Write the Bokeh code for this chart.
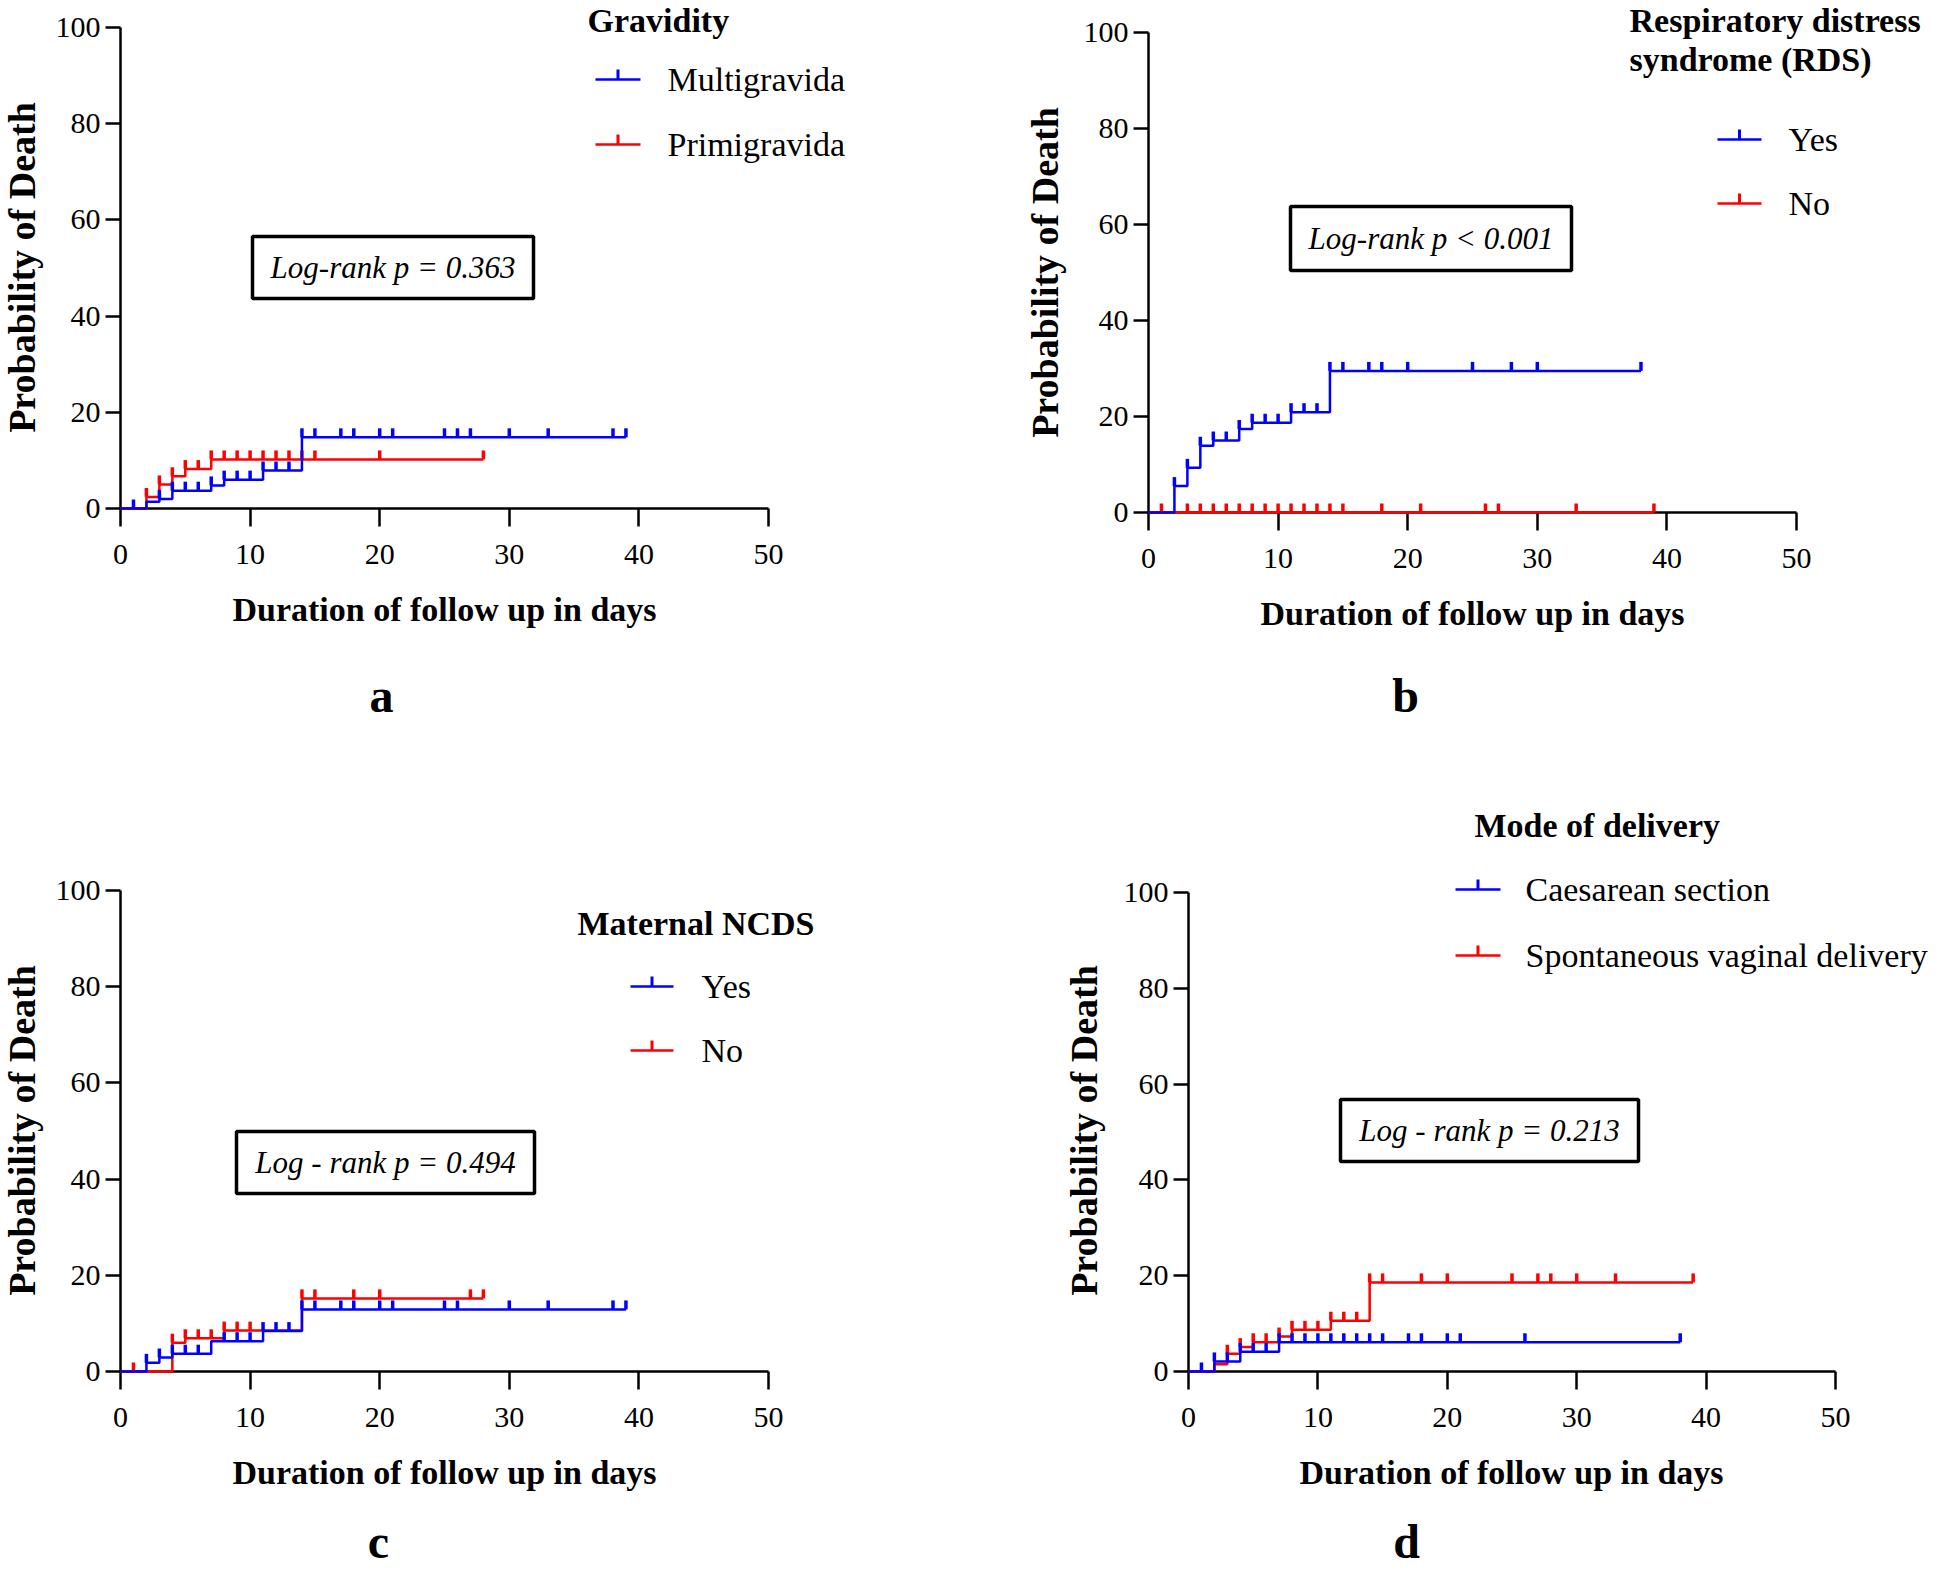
import math
from bokeh.plotting import figure
from bokeh.layouts import column, row
from bokeh.models import Range1d, FixedTicker, Label, Arrow, BoxAnnotation
from bokeh.embed import file_html
from bokeh.resources import INLINE

# ---------------- data ----------------
x_ticks = [0, 10, 20, 30, 40, 50]
y_ticks = [0, 20, 40, 60, 80, 100]

# a: Gravidity
multi_time = [0, 2, 3, 4, 7, 8, 11, 14, 39]
multi_prob = [0, 1.4, 2.0, 3.7, 4.8, 6.0, 7.9, 14.8, 14.8]
multi_cens = [1, 3, 4, 5, 6, 7, 8, 9, 10, 11, 12, 13, 14, 15, 17, 18, 20, 21, 25, 26, 27, 30, 33, 38, 39]
primi_time = [0, 2, 3, 4, 5, 7, 28]
primi_prob = [0, 2.4, 5.0, 6.7, 8.2, 10.2, 10.2]
primi_cens = [2, 3, 4, 5, 6, 7, 8, 9, 10, 11, 12, 13, 14, 15, 20, 28]

# b: RDS
rds_yes_time = [0, 2, 3, 4, 5, 7, 8, 11, 14, 38]
rds_yes_prob = [0, 5.5, 9.3, 13.9, 15.0, 17.4, 18.7, 20.9, 29.5, 29.5]
rds_yes_cens = [2, 3, 4, 5, 6, 7, 8, 9, 10, 11, 12, 13, 14, 15, 17, 18, 20, 25, 28, 30, 38]
rds_no_time = [0, 39]
rds_no_prob = [0, 0]
rds_no_cens = [1, 3, 4, 5, 6, 7, 8, 9, 10, 11, 12, 13, 14, 15, 18, 21, 26, 27, 33, 39]

# c: Maternal NCDS
ncds_yes_time = [0, 2, 3, 4, 7, 11, 14, 39]
ncds_yes_prob = [0, 1.8, 2.9, 3.7, 6.3, 8.4, 12.9, 12.9]
ncds_yes_cens = [2, 3, 4, 5, 6, 8, 9, 10, 11, 12, 13, 14, 15, 17, 18, 20, 21, 25, 26, 30, 33, 38, 39]
ncds_no_time = [0, 4, 5, 8, 14, 28]
ncds_no_prob = [0, 6.0, 6.9, 8.5, 15.2, 15.2]
ncds_no_cens = [1, 4, 5, 6, 7, 8, 9, 10, 14, 15, 18, 20, 27, 28]

# d: Mode of delivery
cs_time = [0, 2, 4, 7, 38]
cs_prob = [0, 2.1, 4.1, 6.1, 6.1]
cs_cens = [1, 2, 3, 4, 5, 6, 7, 8, 9, 10, 11, 12, 13, 14, 15, 17, 18, 20, 21, 26, 38]
svd_time = [0, 2, 3, 4, 5, 7, 8, 11, 14, 39]
svd_prob = [0, 1.5, 3.7, 5.1, 6.1, 7.3, 8.7, 10.6, 18.6, 18.6]
svd_cens = [3, 4, 5, 6, 7, 8, 9, 10, 11, 12, 13, 14, 15, 18, 20, 25, 27, 28, 30, 33, 39]

# ---------------- styles ----------------
FONT = "Liberation Serif"
BLUE = "#0000FF"
RED = "#FF0000"
X_MAX = x_ticks[-1]
Y_MAX = y_ticks[-1]
BASE_SHIFT = 0.37  # em; correction so the given y is the visual baseline


def level_at(times, probs, t):
    v = probs[0]
    for ti, pi in zip(times, probs):
        if ti <= t:
            v = pi
    return v


def make_panel(cfg):
    ox, oy = cfg["origin"]
    W, H = cfg["W"], cfg["H"]
    fr = cfg["frame"]
    L, R = fr["l"] - ox, fr["r"] - ox
    T, B = fr["t"] - oy, fr["b"] - oy
    kx = X_MAX / (R - L)
    ky = Y_MAX / (B - T)
    xr = Range1d(-L * kx, X_MAX + (W - R) * kx)
    yr = Range1d(-(H - B) * ky, Y_MAX + T * ky)

    def dx(px):
        return (px - fr["l"]) * kx

    def dy(py):
        return (fr["b"] - py) * ky

    def text(txt, px, py, size, style="normal", align="left"):
        p.add_layout(Label(x=dx(px), y=dy(py - BASE_SHIFT * size), text=txt,
                           text_align=align, text_baseline="alphabetic",
                           text_font=FONT, text_font_size=f"{size}px",
                           text_font_style=style, text_color="black"))

    p = figure(width=W, height=H, x_range=xr, y_range=yr,
               output_backend="svg", toolbar_location=None,
               min_border_left=0, min_border_right=0, min_border_top=0, min_border_bottom=0)
    p.outline_line_color = None
    p.xgrid.visible = False
    p.ygrid.visible = False
    p.background_fill_color = "white"
    p.border_fill_color = "white"

    for ax in (p.xaxis[0], p.yaxis[0]):
        ax.fixed_location = 0
        ax.axis_line_width = 2.5
        ax.axis_line_color = "black"
        ax.major_tick_line_width = 2.5
        ax.major_tick_line_color = "black"
        ax.major_tick_in = 0
        ax.minor_tick_line_color = None
        ax.major_label_text_font = FONT
        ax.major_label_text_font_size = "30px"
        ax.major_label_text_color = "black"
    p.xaxis.bounds = (0, X_MAX)
    p.yaxis.bounds = (0, Y_MAX)
    p.xaxis.ticker = FixedTicker(ticks=x_ticks)
    p.yaxis.ticker = FixedTicker(ticks=y_ticks)
    p.xaxis.major_tick_out = 18
    p.xaxis.major_label_standoff = 18
    p.yaxis.major_tick_out = 15
    p.yaxis.major_label_standoff = 5

    tick_len = 9 * ky
    for (times, probs, cens, color) in cfg["series"]:
        r = p.step(x=times, y=probs, mode="after", line_color=color, line_width=2.5)
        r.level = "overlay"
        lv = [level_at(times, probs, c) for c in cens]
        s = p.segment(x0=cens, y0=lv, x1=cens, y1=[v + tick_len for v in lv],
                      line_color=color, line_width=3.5)
        s.level = "overlay"

    # y axis title (rotated)
    p.add_layout(Label(x=dx(cfg["ytitle"][0]), y=dy(cfg["ytitle"][1]), text="Probability of Death",
                       angle=math.pi / 2, text_align="center", text_baseline="middle",
                       text_font=FONT, text_font_size="38px", text_font_style="bold",
                       text_color="black"))
    # x axis title
    text("Duration of follow up in days", cfg["xtitle"][0], cfg["xtitle"][1], 34, "bold", "center")
    # panel letter
    text(cfg["letter"][0], cfg["letter"][1], cfg["letter"][2], 48, "bold", "center")
    # legend title
    for (txt, lx, ly) in cfg["ltitle"]:
        text(txt, lx, ly, 34, "bold", "left")
    # legend entries
    lx0, lx1, tx = cfg["lentry_x"]
    for (txt, color, ly) in cfg["lentries"]:
        p.add_layout(Arrow(end=None, x_start=dx(lx0), y_start=dy(ly), x_end=dx(lx1), y_end=dy(ly),
                           line_color=color, line_width=2.5))
        xm = dx((lx0 + lx1) / 2)
        p.add_layout(Arrow(end=None, x_start=xm, y_start=dy(ly), x_end=xm, y_end=dy(ly - 10),
                           line_color=color, line_width=3))
        text(txt, tx, ly + 13, 34, "normal", "left")
    # log-rank box
    bl, br, bt, bb = cfg["box"]
    p.add_layout(BoxAnnotation(left=dx(bl), right=dx(br), top=dy(bt), bottom=dy(bb),
                               fill_color=None, fill_alpha=0, line_color="black",
                               line_alpha=1.0, line_width=3.5))
    text(cfg["ptext"], (bl + br) / 2, (bt + bb) / 2 + 11, 31, "italic", "center")
    return p


# All positions below are page pixel positions
cfg_a = dict(origin=(0, 0), W=965, H=782, frame=dict(l=120, r=768, t=27, b=508),
             series=[(primi_time, primi_prob, primi_cens, RED),
                     (multi_time, multi_prob, multi_cens, BLUE)],
             ytitle=(21, 267), xtitle=(444, 622), letter=("a", 381, 713),
             ltitle=[("Gravidity", 587, 33)], lentry_x=(595, 640, 667),
             lentries=[("Multigravida", BLUE, 79), ("Primigravida", RED, 144)],
             box=(252, 533, 236, 298), ptext="Log-rank p = 0.363")
cfg_b = dict(origin=(965, 0), W=977, H=782, frame=dict(l=1148, r=1796, t=32, b=512),
             series=[(rds_no_time, rds_no_prob, rds_no_cens, RED),
                     (rds_yes_time, rds_yes_prob, rds_yes_cens, BLUE)],
             ytitle=(1044, 272), xtitle=(1472, 626), letter=("b", 1405, 713),
             ltitle=[("Respiratory distress", 1629, 33), ("syndrome (RDS)", 1629, 72)],
             lentry_x=(1717, 1761, 1788),
             lentries=[("Yes", BLUE, 139), ("No", RED, 203)],
             box=(1290, 1571, 206, 270), ptext="Log-rank p < 0.001")
cfg_c = dict(origin=(0, 782), W=965, H=791, frame=dict(l=120, r=768, t=890, b=1371),
             series=[(ncds_no_time, ncds_no_prob, ncds_no_cens, RED),
                     (ncds_yes_time, ncds_yes_prob, ncds_yes_cens, BLUE)],
             ytitle=(21, 1130), xtitle=(444, 1485), letter=("c", 378, 1559),
             ltitle=[("Maternal NCDS", 577, 936)], lentry_x=(630, 673, 701),
             lentries=[("Yes", BLUE, 986), ("No", RED, 1050)],
             box=(236, 534, 1131, 1193), ptext="Log - rank p = 0.494")
cfg_d = dict(origin=(965, 782), W=977, H=791, frame=dict(l=1188, r=1835, t=892, b=1371),
             series=[(svd_time, svd_prob, svd_cens, RED),
                     (cs_time, cs_prob, cs_cens, BLUE)],
             ytitle=(1083, 1130), xtitle=(1511, 1485), letter=("d", 1406, 1559),
             ltitle=[("Mode of delivery", 1474, 838)], lentry_x=(1455, 1500, 1525),
             lentries=[("Caesarean section", BLUE, 889), ("Spontaneous vaginal delivery", RED, 955)],
             box=(1340, 1638, 1099, 1161), ptext="Log - rank p = 0.213")

pa = make_panel(cfg_a)
pb = make_panel(cfg_b)
pc = make_panel(cfg_c)
pd = make_panel(cfg_d)

layout = column(row(pa, pb, spacing=0), row(pc, pd, spacing=0), spacing=0)
open("out.html", "w").write(file_html(layout, INLINE))
